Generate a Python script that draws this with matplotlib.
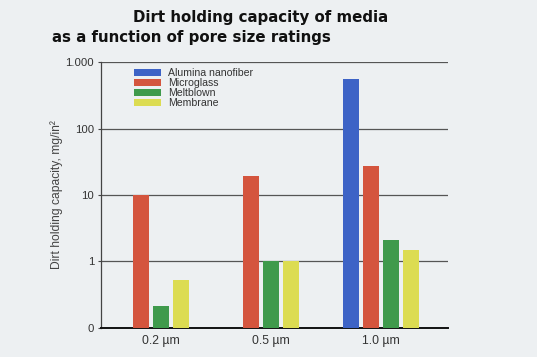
import numpy as np
import matplotlib.pyplot as plt
from matplotlib.patches import Patch

pore_sizes = ["0.2 µm", "0.5 µm", "1.0 µm"]
series_names = ["Alumina nanofiber", "Microglass", "Meltblown", "Membrane"]
alumina = [np.nan, np.nan, 555]
microglass = [10, 19, 27]
meltblown = [0.21, 1.0, 2.1]
membrane = [0.52, 1.0, 1.46]
y_ticks = [0.1, 1, 10, 100, 1000]
y_tick_labels = ["0", "1", "10", "100", "1.000"]

colors = ["#3d63c6", "#d4553e", "#3f9a4c", "#dcdc52"]
bg = "#edf0f2"

plt.rcParams["font.family"] = ["Liberation Sans", "DejaVu Sans"]

fig = plt.figure(figsize=(5.37, 3.57), dpi=100, facecolor=bg)
ax = fig.add_axes([0.188, 0.082, 0.646, 0.744], facecolor=bg)
ax.set_yscale("log")

values = np.array([alumina, microglass, meltblown, membrane], dtype=float)
width = 0.145
pitch = 0.182
for g in range(len(pore_sizes)):
    present = [i for i in range(len(series_names)) if not np.isnan(values[i, g])]
    offsets = (np.arange(len(present)) - (len(present) - 1) / 2) * pitch
    for off, i in zip(offsets, present):
        ax.bar(g + off, values[i, g], width=width, color=colors[i], zorder=3)

ax.set_ylim(0.1, 1000)
ax.set_xlim(-0.545, 2.606)
ax.set_yticks(y_ticks)
ax.set_yticklabels(y_tick_labels)
ax.minorticks_off()
ax.set_xticks(range(len(pore_sizes)))
ax.set_xticklabels(pore_sizes)
ax.tick_params(axis="x", length=0, pad=5, labelsize=8.8, labelcolor="#333333")
ax.tick_params(axis="y", length=2, pad=3, labelsize=8.2, labelcolor="#333333",
               color="#444444")

for v in y_ticks[1:]:
    ax.axhline(v, color="#555555", lw=0.9, zorder=1)

for s in ["top", "right"]:
    ax.spines[s].set_visible(False)
ax.spines["left"].set_color("#444444")
ax.spines["left"].set_linewidth(0.9)
ax.spines["bottom"].set_color("#111111")
ax.spines["bottom"].set_linewidth(1.4)

ax.set_ylabel("Dirt holding capacity, mg/in²", fontsize=8.7, color="#444444",
              labelpad=2)

handles = [Patch(facecolor=c, edgecolor="none") for c in colors]
ax.legend(handles, series_names, loc="upper left",
          bbox_to_anchor=(0.08, 0.997), frameon=False, fontsize=7.6,
          handlelength=2.6, handleheight=0.65, labelspacing=0.0,
          handletextpad=0.6, borderpad=0, labelcolor="#333333")

fig.text(133 / 537, 0.95, "Dirt holding capacity of media", fontsize=10.8,
         fontweight="bold", ha="left", va="center", color="#111111",
         family="DejaVu Sans")
fig.text(52 / 537, 0.896, "as a function of pore size ratings", fontsize=10.8,
         fontweight="bold", ha="left", va="center", color="#111111",
         family="DejaVu Sans")

fig.savefig("out.png", dpi=100, facecolor=bg)
